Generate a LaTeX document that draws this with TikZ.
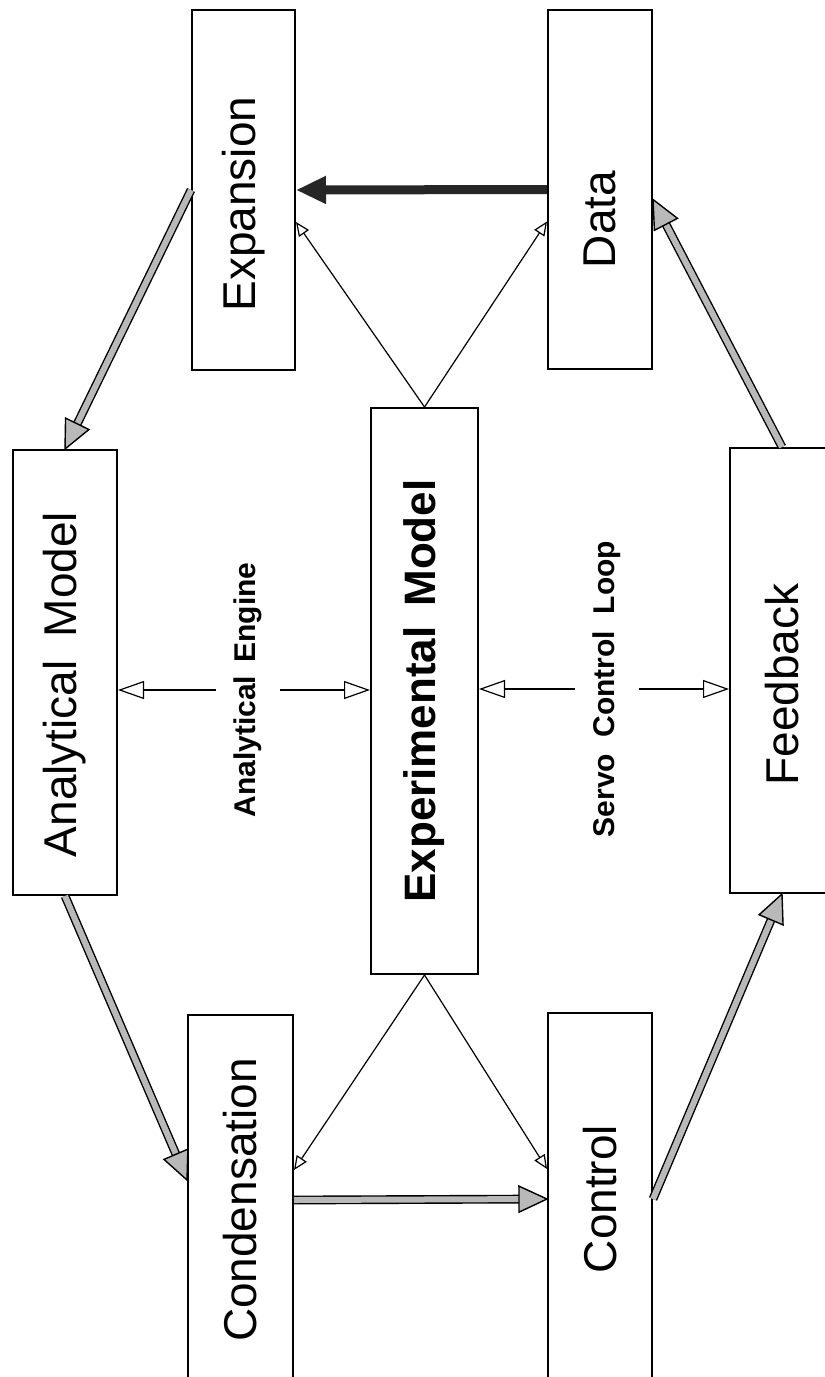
\documentclass[tikz,border=0pt]{standalone}
\usepackage{fontspec}
\setmainfont{Liberation Sans}
\usepackage{graphicx}
\usetikzlibrary{positioning,arrows.meta,decorations.markings}

\newcommand{\vlabel}[2][0pt]{\rotatebox{90}{\fontsize{23}{23}\selectfont #2\hspace*{#1}}}
\newcommand{\vtitle}[1]{\rotatebox{90}{\fontsize{15}{15}\selectfont\bfseries #1}}

\tikzset{
  block/.style={draw, line width=1pt, inner sep=0pt},
  shaded/.style={draw=black, line width=0.7pt, double=gray!55, double distance=3pt, shorten >=12pt,
    postaction={decorate, decoration={markings, mark=at position 1 with {
      \filldraw[fill=gray!55, draw=black, line width=0.7pt, shorten >=0pt]
        (0pt,0pt) -- (-14pt,6.5pt) -- (-14pt,-6.5pt) -- cycle;}}}},
  heavy/.style={draw=black!85, line width=4.5pt, -{Triangle[length=15pt,width=13pt]}},
  thinarrow/.style={line width=0.6pt, -{Triangle[open,length=7pt,width=6pt]}},
  openarrow/.style={line width=0.6pt, -{Triangle[open,length=13pt,width=9pt]}}
}

\begin{document}
\begin{tikzpicture}[x=0.5pt, y=-0.5pt]

            \useasboundingbox (0,0) rectangle (825,1377);
            \clip (0,0) rectangle (825,1377);

            \node[block, minimum width=51.5pt, minimum height=180pt] (expansion) at (243.5,190) {\vlabel[14pt]{Expansion}};
            \node[block, minimum width=52pt, minimum height=179.5pt] (data) at (600,189.5) {\vlabel[30pt]{Data}};
            \node[block, minimum width=52pt, minimum height=222.5pt] (analytical) at (65,672.5) {\vlabel[12pt]{Analytical\hspace{0.5em}Model}};
            \node[block, minimum width=53.5pt, minimum height=283pt] (experimental) at (424.5,691) {\rotatebox{90}{\fontsize{22}{22}\selectfont\bfseries Experimental\hspace{0.45em}Model}};
            \node[block, minimum width=52pt, minimum height=222.5pt] (feedback) at (782,670.5) {\vlabel[14pt]{Feedback}};
            \node[block, minimum width=52.5pt, minimum height=185pt] (condensation) at (240.5,1200) {\vlabel{Condensation}};
            \node[block, minimum width=52pt, minimum height=186pt] (control) at (600,1199) {\vlabel{Control}};

            \node[inner xsep=9pt] (engine) at (248,690) {\vtitle{Analytical\hspace{0.45em}Engine}};
            \node[inner xsep=9pt] (servo) at (607,689) {\vtitle{Servo\hspace{0.55em}Control\hspace{0.55em}Loop}};

            \draw[shaded] (expansion.west) -- (analytical.north);
            \draw[shaded] (analytical.south) -- ([yshift=10pt]condensation.west);
            \draw[shaded] (condensation.east) -- (control.west);
            \draw[shaded] (control.east) -- (feedback.south);
            \draw[shaded] (feedback.north) -- ([yshift=-5pt]data.east);
            \draw[heavy] (data.west) -- (expansion.east);

            \draw[thinarrow] (experimental.north) -- ([yshift=-16pt]expansion.east);
            \draw[thinarrow] (experimental.north) -- ([yshift=-16pt]data.west);
            \draw[thinarrow] (experimental.south) -- ([yshift=15pt]condensation.east);
            \draw[thinarrow] (experimental.south) -- ([yshift=15pt]control.west);

            \draw[openarrow] (engine.west) -- (engine.west -| analytical.east);
            \draw[openarrow] (engine.east) -- (engine.east -| experimental.west);
            \draw[openarrow] (servo.west) -- (servo.west -| experimental.east);
            \draw[openarrow] (servo.east) -- (servo.east -| feedback.west);

        \end{tikzpicture}
\end{document}
